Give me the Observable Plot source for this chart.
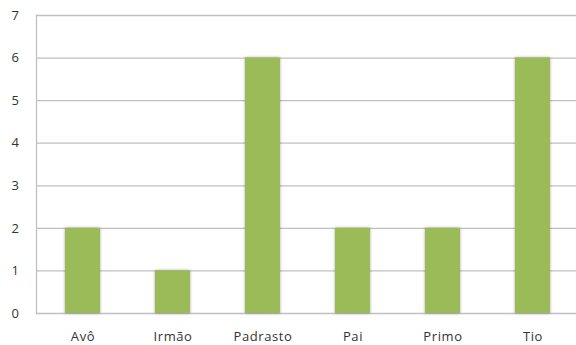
<!DOCTYPE html>
<html>
<head>
<meta charset="utf-8">
<script src="https://cdn.jsdelivr.net/npm/d3@7"></script>
<script src="https://cdn.jsdelivr.net/npm/@observablehq/plot@0.6"></script>
<style>
  html, body { margin: 0; padding: 0; background: #fff; }
  #chart svg { display: block; }
  #chart svg text { letter-spacing: 0.6px; }
</style>
</head>
<body>
<div id="chart"></div>
<script>
const categories = ["Avô", "Irmão", "Padrasto", "Pai", "Primo", "Tio"];
const values = [2, 1, 6, 2, 2, 6];
const yTicks = [0, 1, 2, 3, 4, 5, 6, 7];

const data = categories.map((c, i) => ({category: c, value: values[i]}));

const chart = Plot.plot({
  width: 576,
  height: 345,
  marginLeft: 36,
  marginRight: 0,
  marginTop: 15,
  marginBottom: 32,
  style: {fontFamily: "'Open Sans', sans-serif", fontSize: "13px", color: "#333", background: "#fff"},
  x: {domain: categories, range: [36, 580], paddingInner: 0.61, paddingOuter: 0.305, label: null},
  y: {domain: [0, 7], label: null},
  marks: [
    Plot.ruleY(yTicks, {stroke: "#c0c0c0", strokeWidth: 1.3, strokeOpacity: 1}),
    Plot.frame({anchor: "left", stroke: "#c0c0c0", strokeWidth: 1.3}),
    Plot.barY(data, {x: "category", y: "value", fill: "#9bbb59"}),
    Plot.axisY({ticks: yTicks, tickSize: 0, tickPadding: 17, tickFormat: d => String(d)}),
    Plot.axisX({tickSize: 0, tickPadding: 18})
  ]
});
chart.querySelectorAll("g[aria-label='bar'] rect").forEach(r => {
  r.style.filter = "drop-shadow(0px 0px 1.5px rgba(0,0,0,0.35))";
});
document.getElementById("chart").appendChild(chart);
</script>
</body>
</html>
